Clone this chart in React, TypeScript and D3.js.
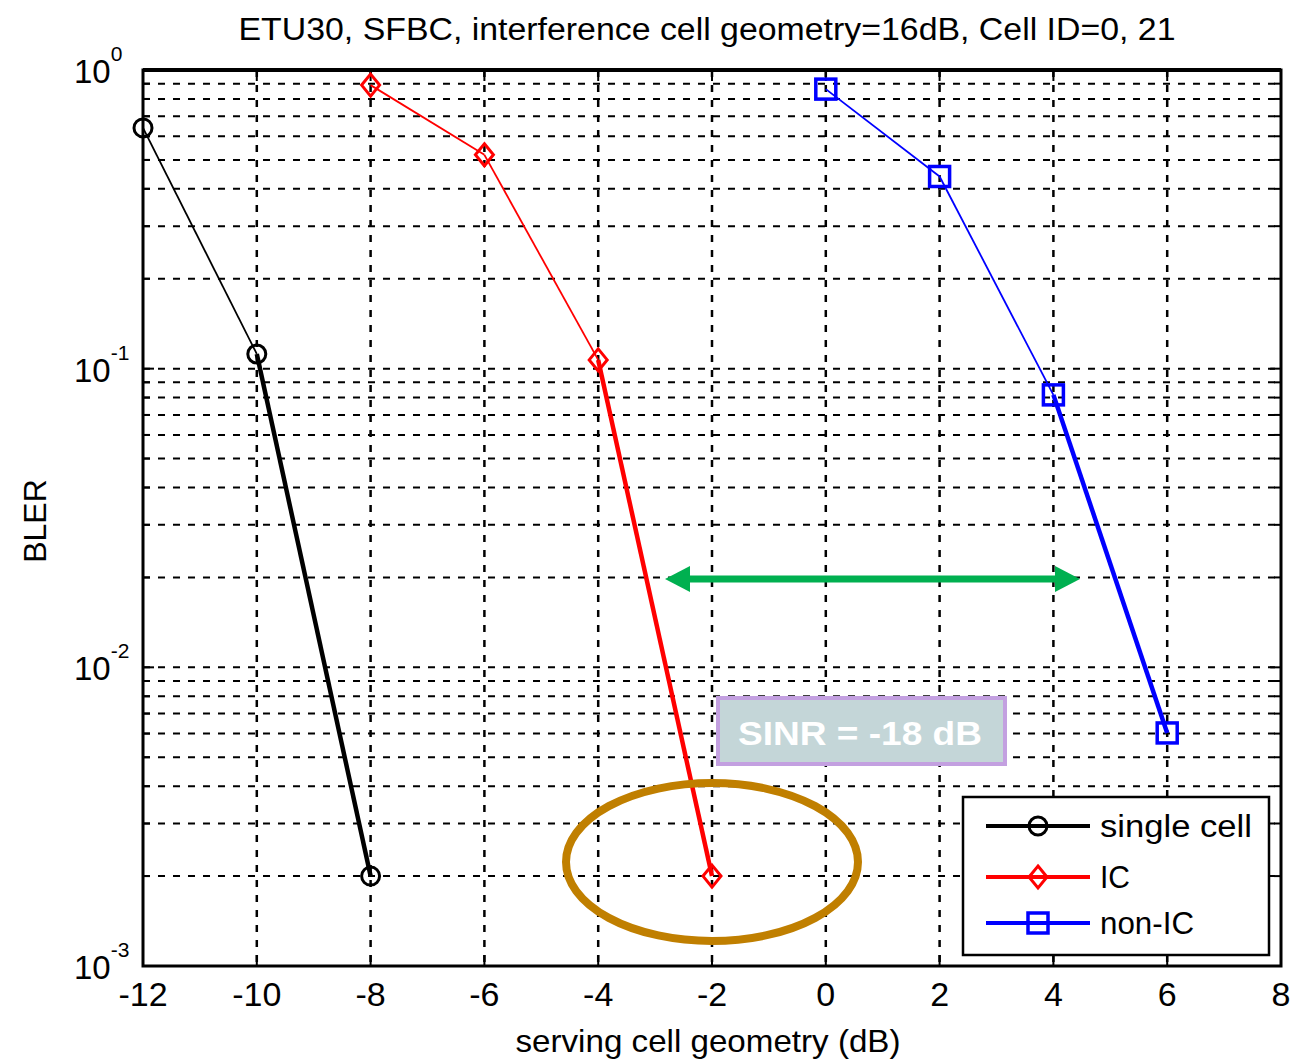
import React from 'react'
import * as d3 from 'd3'

const xTicks = [-12, -10, -8, -6, -4, -2, 0, 2, 4, 6, 8]
const yDecades = [-3, -2, -1, 0]

const singleX = [-12, -10, -8]
const singleY = [0.64, 0.112, 0.002]
const icX = [-8, -6, -4, -2]
const icY = [0.89, 0.52, 0.107, 0.002]
const nonIcX = [0, 2, 4, 6]
const nonIcY = [0.863, 0.44, 0.0817, 0.00603]

const legendLabels = ['single cell', 'IC', 'non-IC']
const annotation = 'SINR = -18 dB'

const W = 1291
const H = 1060
const left = 143, right = 1281, top = 70, bottom = 966

const x = d3.scaleLinear().domain([-12, 8]).range([left, right])
const y = d3.scaleLog().domain([1e-3, 1]).range([bottom, top])

const font = '"Liberation Sans", Arial, sans-serif'

function minorValues() {
  const out: number[] = []
  for (let k = -3; k < 0; k++) {
    for (let m = 2; m <= 9; m++) out.push(m * Math.pow(10, k))
  }
  return out
}

function Marker({ kind, cx, cy, color }: { kind: string, cx: number, cy: number, color: string }) {
  if (kind === 'circle') {
    return <circle cx={cx} cy={cy} r={9} fill='none' stroke={color} strokeWidth={3} />
  }
  if (kind === 'diamond') {
    const s = 11
    return <path d={`M${cx},${cy - s}L${cx + s - 2},${cy}L${cx},${cy + s}L${cx - s + 2},${cy}Z`} fill='none' stroke={color} strokeWidth={3} />
  }
  return <rect x={cx - 10} y={cy - 10} width={20} height={20} fill='none' stroke={color} strokeWidth={3.5} />
}

function Series({ xs, ys, color, kind }: { xs: number[], ys: number[], color: string, kind: string }) {
  const segs = []
  for (let i = 0; i < xs.length - 1; i++) {
    const line = d3.line<number>().x((_, j) => x(xs[i + j])).y((_, j) => y(ys[i + j]))
    segs.push(
      <path key={'s' + i} d={line([0, 1]) || ''} fill='none' stroke={color}
        strokeWidth={i === xs.length - 2 ? 4.5 : 1.8} />
    )
  }
  return (
    <g>
      {segs}
      {xs.map((v, i) => <Marker key={i} kind={kind} cx={x(v)} cy={y(ys[i])} color={color} />)}
    </g>
  )
}

const App = () => {
  const minors = minorValues()
  const series = [
    { xs: singleX, ys: singleY, color: '#000000', kind: 'circle' },
    { xs: icX, ys: icY, color: '#ff0000', kind: 'diamond' },
    { xs: nonIcX, ys: nonIcY, color: '#0000ff', kind: 'square' },
  ]
  const legendRows = [826, 877, 923]
  const arrowY = 579
  const arrowX0 = 665, arrowX1 = 1080
  const green = '#00b050'

  return (
    <div style={{ position: 'absolute', left: 0, top: 0 }}>
      <svg width={W} height={H} style={{ display: 'block', background: '#fff' }} fontFamily={font}>
        {/* grid */}
        <g stroke='#000' strokeDasharray='7,8'>
          {xTicks.slice(1, -1).map(t => (
            <line key={'gx' + t} x1={x(t)} x2={x(t)} y1={top} y2={bottom} strokeWidth={2.5} />
          ))}
          {minors.concat([0.1, 0.01]).map(v => (
            <line key={'gy' + v} x1={left} x2={right} y1={y(v)} y2={y(v)} strokeWidth={2} />
          ))}
        </g>
        {/* ticks */}
        <g stroke='#000' strokeWidth={2}>
          {xTicks.map(t => (
            <g key={'tx' + t}>
              <line x1={x(t)} x2={x(t)} y1={bottom} y2={bottom - 11} />
              <line x1={x(t)} x2={x(t)} y1={top} y2={top + 11} />
            </g>
          ))}
          {minors.map(v => (
            <g key={'ty' + v}>
              <line x1={left} x2={left + 7} y1={y(v)} y2={y(v)} />
              <line x1={right} x2={right - 7} y1={y(v)} y2={y(v)} />
            </g>
          ))}
          {yDecades.map(k => (
            <g key={'td' + k}>
              <line x1={left} x2={left + 11} y1={y(Math.pow(10, k))} y2={y(Math.pow(10, k))} />
              <line x1={right} x2={right - 11} y1={y(Math.pow(10, k))} y2={y(Math.pow(10, k))} />
            </g>
          ))}
        </g>
        {/* frame */}
        <rect x={left} y={top} width={right - left} height={bottom - top} fill='none' stroke='#000' strokeWidth={3} />
        <line x1={left} x2={right} y1={top} y2={top} stroke='#000' strokeWidth={4} />

        {/* tick labels */}
        <g fontSize={34} fill='#000' textAnchor='middle'>
          {xTicks.map(t => (
            <text key={'lx' + t} x={x(t)} y={1006}>{t}</text>
          ))}
        </g>
        <g fill='#000'>
          {yDecades.map(k => (
            <text key={'ly' + k} x={74} y={y(Math.pow(10, k)) + 13} fontSize={33}>
              10<tspan dy={-22} fontSize={21}>{k}</tspan>
            </text>
          ))}
        </g>

        {/* labels */}
        <text x={707} y={40} fontSize={31} textAnchor='middle' textLength={937} lengthAdjust='spacingAndGlyphs'>
          ETU30, SFBC, interference cell geometry=16dB, Cell ID=0, 21
        </text>
        <text x={708} y={1052} fontSize={32} textAnchor='middle' textLength={385} lengthAdjust='spacingAndGlyphs'>
          serving cell geometry (dB)
        </text>
        <text transform='translate(46,521) rotate(-90)' fontSize={32} textAnchor='middle'>BLER</text>

        {/* data */}
        {series.map((s, i) => <Series key={i} {...s} />)}

        {/* annotations */}
        <line x1={arrowX0 + 20} x2={arrowX1 - 20} y1={arrowY} y2={arrowY} stroke={green} strokeWidth={7} />
        <path d={`M${arrowX0},${arrowY}L${arrowX0 + 25},${arrowY - 13}L${arrowX0 + 25},${arrowY + 13}Z`} fill={green} />
        <path d={`M${arrowX1},${arrowY}L${arrowX1 - 25},${arrowY - 13}L${arrowX1 - 25},${arrowY + 13}Z`} fill={green} />

        <ellipse cx={712} cy={862} rx={146} ry={79} fill='none' stroke='#c07f00' strokeWidth={8} />

        <rect x={718} y={698} width={287} height={66} fill='#c4d6d8' stroke='#c3a0e0' strokeWidth={4} />
        <text x={860} y={745} fontSize={34} fontWeight='bold' fill='#fff' textAnchor='middle'
          textLength={244} lengthAdjust='spacingAndGlyphs'>{annotation}</text>

        {/* legend */}
        <rect x={963} y={797} width={306} height={158} fill='#fff' stroke='#000' strokeWidth={2.5} />
        {series.map((s, i) => (
          <g key={'lg' + i}>
            <line x1={986} x2={1090} y1={legendRows[i]} y2={legendRows[i]} stroke={s.color} strokeWidth={4} />
            <Marker kind={s.kind} cx={1038} cy={legendRows[i]} color={s.color} />
            <text x={1100} y={legendRows[i] + 11} fontSize={31} fill='#000'
              textLength={i === 0 ? 152 : i === 1 ? 30 : 94} lengthAdjust='spacingAndGlyphs'>{legendLabels[i]}</text>
          </g>
        ))}
      </svg>
    </div>
  )
}

export default App
